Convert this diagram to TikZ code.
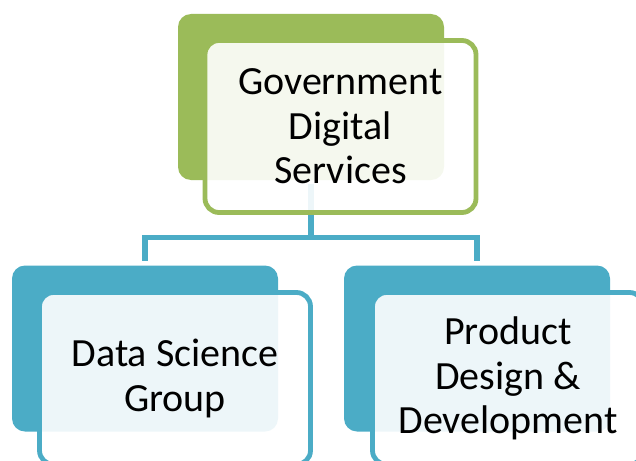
\documentclass[tikz,border=0pt]{standalone}
\usepackage{fontspec}
\setmainfont{Carlito}
\definecolor{gdsgreen}{HTML}{9BBB59}
\definecolor{gdsblue}{HTML}{4BACC6}
\tikzset{
  backbox/.style={draw=none, fill=#1, rounded corners=13pt, minimum width=266pt, minimum height=166pt, inner sep=0pt, outer sep=0pt},
  frontbox/.style={draw=#1, line width=4.8pt, fill=white, fill opacity=0.9, text opacity=1, rounded corners=14pt, minimum width=271pt, minimum height=172pt, inner sep=0pt, outer sep=0pt, align=center, font=\fontsize{40}{44.5}\selectfont},
  conn/.style={draw=gdsblue, line width=5.5pt}
}
\begin{document}
\begin{tikzpicture}[x=1pt,y=-1pt]
\useasboundingbox (0,0) rectangle (636,460);
\clip (0,0) rectangle (636,460);
% back plates
\node[backbox=gdsgreen] (gdsback) at (311,97) {};
\node[backbox=gdsblue] (dsback) at (145,348.5) {};
\node[backbox=gdsblue] (pdback) at (477,348.5) {};
% connectors
\coordinate (junction) at (311,237.5);
\draw[conn, shorten <=4pt] (gdsback.south) -- (junction);
\draw[conn, shorten >=5pt] (junction) -| (dsback.north);
\draw[conn, shorten >=5pt] (junction) -| (pdback.north);
% front boxes
\node[frontbox=gdsgreen] (gds) at (340.5,126.5) {Government\\Digital\\Services};
\node[frontbox=gdsblue] (ds) at (175,378.5) {Data Science\\Group};
\node[frontbox=gdsblue] (pd) at (508,378.5) {Product\\Design \&\\Development};
\end{tikzpicture}
\end{document}
